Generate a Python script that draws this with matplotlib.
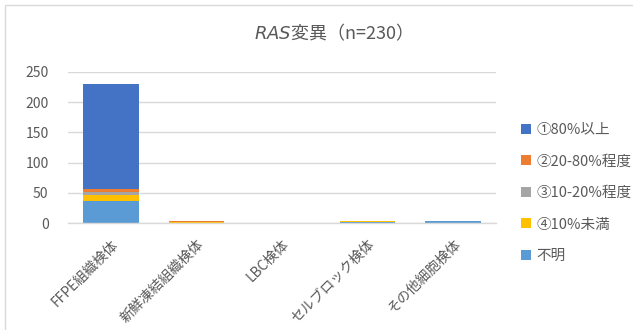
import matplotlib
matplotlib.use("Agg")
import matplotlib.pyplot as plt
from matplotlib.patches import Rectangle
import numpy as np

plt.rcParams['font.family'] = ['Noto Sans CJK JP', 'DejaVu Sans']

# 検体種別ごとの RAS 変異（腫瘍細胞割合別の件数）
categories = ['FFPE組織検体', '新鮮凍結組織検体', 'LBC検体', 'セルブロック検体', 'その他細胞検体']
series_names = ['①80%以上', '②20-80%程度', '③10-20%程度', '④10%未満', '不明']
over80 = [174, 0, 0, 0, 0]
p20_80 = [5, 2, 0, 0, 0]
p10_20 = [5, 0, 0, 0, 0]
under10 = [9, 2, 0, 2, 0]
unknown = [37, 0, 0, 2, 4]
yticks = [0, 50, 100, 150, 200, 250]

colors = ['#4472C4', '#ED7D31', '#A5A5A5', '#FFC000', '#5B9BD5']
text_c = '#595959'
grid_c = '#D9D9D9'

W, H = 633, 330
fig = plt.figure(figsize=(W / 100, H / 100), dpi=100)

# グラフエリアの枠線（右下ははみ出す）
fig.patches.append(Rectangle((5 / W, -0.1), 1.2, (H - 5) / H + 0.1, transform=fig.transFigure,
                             fill=False, edgecolor=grid_c, linewidth=1))

ax = fig.add_axes([68 / W, (H - 223.3) / H, (496 - 68) / W, (223.3 - 71.7) / H])

x = np.arange(len(categories))
# 下から積み上げ：不明 → ④ → ③ → ② → ①
stack = [unknown, under10, p10_20, p20_80, over80]
stack_colors = colors[::-1]
bottom = np.zeros(len(categories))
handles = {}
for vals, c, name in zip(stack, stack_colors, series_names[::-1]):
    vals = np.array(vals, dtype=float)
    b = ax.bar(x, vals, width=0.65, bottom=bottom, color=c, linewidth=0, zorder=3)
    handles[name] = b
    bottom += vals

ax.set_xlim(-0.5, len(categories) - 0.5)
ax.set_ylim(0, 250)
ax.set_yticks(yticks)
ax.yaxis.grid(True, color=grid_c, linewidth=1, zorder=0)
for s in ['top', 'right', 'left']:
    ax.spines[s].set_visible(False)
ax.spines['bottom'].set_color(grid_c)
ax.spines['bottom'].set_linewidth(1)
ax.spines['bottom'].set_zorder(4)
ax.tick_params(axis='both', length=0, colors=text_c, labelsize=10)
ax.tick_params(axis='y', pad=14)
ax.set_xticks(x)
ax.set_xticklabels(categories, rotation=45, ha='right', va='top', rotation_mode='anchor')
ax.tick_params(axis='x', pad=10)

fig.text(329 / W, 1 - 33 / H, r'$\it{RAS}$変異（n=230）', ha='center', va='center',
         fontsize=13, color=text_c)

leg = fig.legend([handles[n] for n in series_names], series_names,
                 loc='upper left', bbox_to_anchor=(521 / W, 1 - 123 / H),
                 frameon=False, fontsize=10.5, labelcolor=text_c,
                 handlelength=0.68, handleheight=0.68, handletextpad=0.35,
                 labelspacing=1.2, borderpad=0, borderaxespad=0)

fig.savefig('out.png', dpi=100)
